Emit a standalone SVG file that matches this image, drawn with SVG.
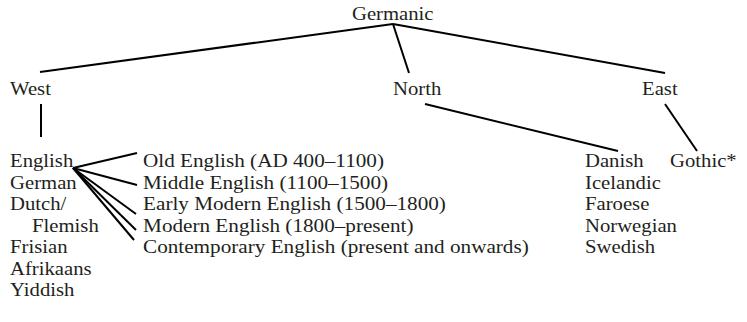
<svg xmlns="http://www.w3.org/2000/svg" width="747" height="322" viewBox="0 0 747 322">
<style>
text{font-family:"Liberation Serif",Tinos,"Times New Roman",Times,"DejaVu Serif",serif;font-size:19px;fill:#231f20}
.c line{stroke:#000;stroke-width:2;stroke-linecap:butt}
</style>
<rect width="747" height="322" fill="#fff"/>
<g class="c" id="connectors">
<line x1="393" y1="24" x2="40" y2="72"/>
<line x1="393" y1="24" x2="409" y2="73"/>
<line x1="393" y1="24" x2="665" y2="73"/>
<line x1="41" y1="104" x2="41" y2="137"/>
<line x1="425" y1="104" x2="618" y2="151"/>
<line x1="665" y1="104" x2="697" y2="151"/>
<line x1="73" y1="168" x2="137" y2="153"/>
<line x1="73" y1="168" x2="137" y2="185"/>
<line x1="73" y1="168" x2="136" y2="214"/>
<line x1="73" y1="168" x2="136" y2="230"/>
<line x1="73" y1="168" x2="134" y2="240"/>
</g>
<g transform="scale(1.09,1)">
<g id="germanic"><text x="322.9" y="20">Germanic</text></g>
<g id="west"><text x="9.2" y="95">West</text></g>
<g id="north"><text x="360.6" y="95">North</text></g>
<g id="east"><text x="589" y="95">East</text></g>
<g id="west-langs">
<text x="9.2" y="167">English</text>
<text x="9.2" y="189">German</text>
<text x="9.2" y="210">Dutch/</text>
<text x="29.4" y="232">Flemish</text>
<text x="9.2" y="253">Frisian</text>
<text x="9.2" y="275">Afrikaans</text>
<text x="9.2" y="296">Yiddish</text>
</g>
<g id="north-langs">
<text x="536.7" y="167">Danish</text>
<text x="536.7" y="189">Icelandic</text>
<text x="536.7" y="210">Faroese</text>
<text x="536.7" y="232">Norwegian</text>
<text x="536.7" y="253">Swedish</text>
</g>
<g id="gothic"><text x="614.7" y="167">Gothic*</text></g>
</g>
<g id="english-periods" transform="scale(1.115,1)">
<text x="128.3" y="167">Old English (AD 400–1100)</text>
<text x="128.3" y="189">Middle English (1100–1500)</text>
<text x="128.3" y="210">Early Modern English (1500–1800)</text>
<text x="128.3" y="232">Modern English (1800–present)</text>
<text x="128.3" y="253">Contemporary English (present and onwards)</text>
</g>
</svg>
